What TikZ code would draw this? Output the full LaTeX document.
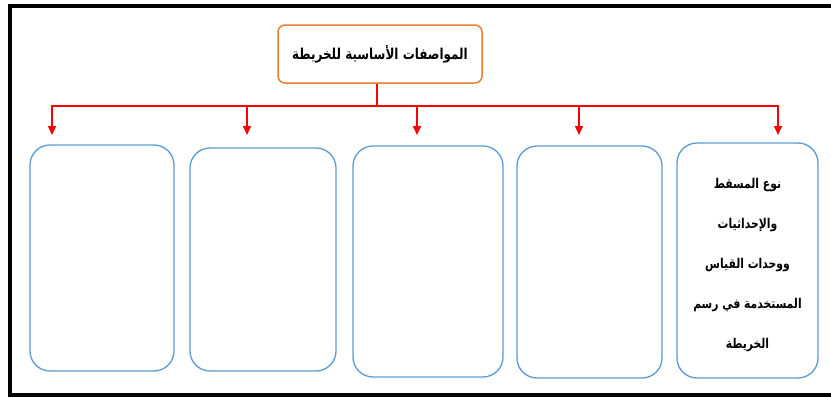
\documentclass[tikz,border=0pt]{standalone}
\usepackage{fontspec}
\usetikzlibrary{arrows.meta}
\newfontfamily\arabicfont[Script=Arabic,FakeStretch=0.8]{DejaVu Sans}
\TeXXeTstate=1
\definecolor{myorange}{RGB}{237,125,49}
\definecolor{myblue}{RGB}{91,155,213}
\definecolor{myred}{RGB}{255,0,0}

\begin{document}
\begin{tikzpicture}[x=1pt,y=-1pt,
    titlebox/.style={draw=myorange,line width=1.5pt,rounded corners=7pt,fill=white,minimum width=204pt,minimum height=58pt,font=\arabicfont\bfseries\fontsize{15}{18}\selectfont},
    itembox/.style={draw=myblue,line width=1.3pt,rounded corners=20pt,fill=white},
    boxtext/.style={align=center,font=\arabicfont\bfseries\fontsize{13.5}{40}\selectfont},
    linkarrow/.style={-{Triangle[length=9pt,width=8pt]},line width=1.5pt,myred}]
    \useasboundingbox (0,0) rectangle (831,397);

    % Frame
    \draw[line width=4pt] (831,5.5) -- (10,5.5) -- (10,395) -- (831,395);

    % Title
    \node[titlebox] (title) at (380,54) {\beginR المواصفات الأساسية للخريطة\endR};

    % Boxes
    \node[itembox,minimum width=144pt,minimum height=226pt] (box1) at (102,258) {};
    \node[itembox,minimum width=146pt,minimum height=223pt] (box2) at (263,259.5) {};
    \node[itembox,minimum width=150pt,minimum height=231pt] (box3) at (428,261.5) {};
    \node[itembox,minimum width=145pt,minimum height=232pt] (box4) at (589.5,262) {};
    \node[itembox,minimum width=141pt,minimum height=235pt] (box5) at (747.5,260.5) {};
    \node[boxtext] (box5text) at ([yshift=-5pt]box5.center) {%
        \beginR نوع المسقط\endR\\
        \beginR والإحداثيات\endR\\
        \beginR ووحدات القياس\endR\\
        \beginR المستخدمة في رسم\endR\\
        \beginR الخريطة\endR};

    % Arrows from title to boxes
    \coordinate (bus) at (377,106);
    \coordinate (tip1) at (52,135);
    \coordinate (tip2) at (247,135);
    \coordinate (tip3) at (417,135);
    \coordinate (tip4) at (579,135);
    \coordinate (tip5) at (778,135);
    \draw[line width=1.5pt,myred] (title.south -| bus) -- (bus);
    \foreach \t in {1,...,5}
        \draw[linkarrow] (bus) -| (tip\t);
\end{tikzpicture}
\end{document}
